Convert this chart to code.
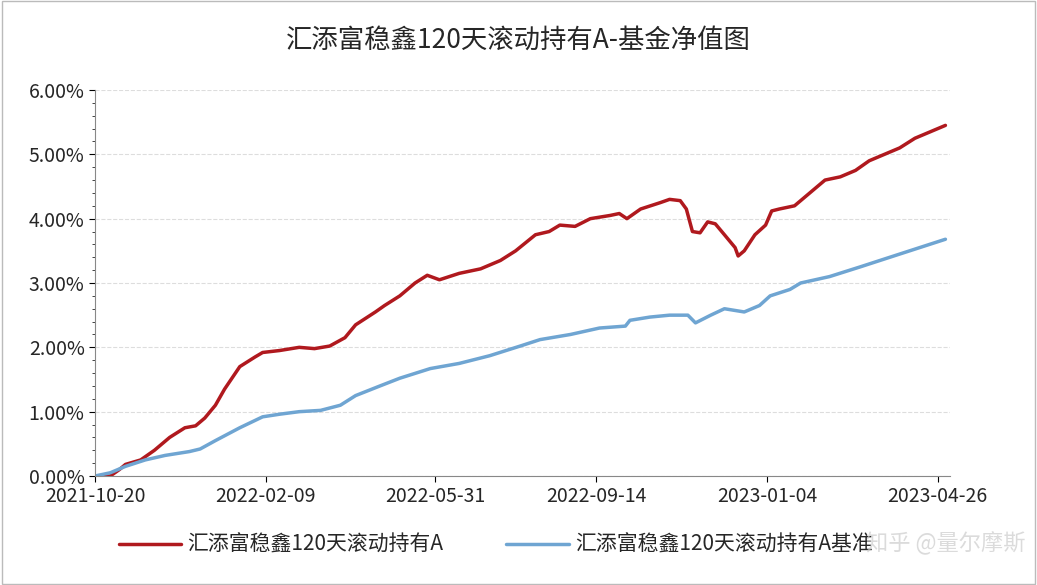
import numpy as np, pandas as pd, seaborn as sns, matplotlib
matplotlib.use("Agg")
import matplotlib.pyplot as plt
import matplotlib.dates as mdates
from matplotlib.ticker import PercentFormatter, MultipleLocator

sns.set_style("white")
plt.rcParams['font.family'] = ['Noto Sans CJK SC', 'DejaVu Sans']

start = pd.Timestamp("2021-10-20")
fund_days = [0,10,16,20,30,39,49,59,66,72,79,85,95,105,110,121,134,144,154,164,171,184,190,200,210,218,226,239,253,266,276,289,298,305,315,325,338,344,349,358,371,377,384,388,392,397,402,407,413,420,422,426,433,440,444,449,459,469,479,489,499,508,518,528,538,548,558]
fund_vals = [0,0,0.1,0.18,0.25,0.4,0.6,0.75,0.78,0.9,1.1,1.35,1.7,1.85,1.92,1.95,2.0,1.98,2.02,2.15,2.35,2.55,2.65,2.8,3.0,3.12,3.05,3.15,3.22,3.35,3.5,3.75,3.8,3.9,3.88,4.0,4.05,4.08,4.0,4.15,4.25,4.3,4.28,4.15,3.8,3.78,3.95,3.92,3.75,3.55,3.42,3.5,3.75,3.9,4.12,4.15,4.2,4.4,4.6,4.65,4.75,4.9,5.0,5.1,5.25,5.35,5.45]
bench_days = [0,10,20,33,46,62,69,79,95,110,121,134,148,161,171,187,200,220,239,259,279,292,312,331,348,351,364,377,389,394,404,413,426,436,443,456,463,482,502,528,558]
bench_vals = [0,0.05,0.15,0.25,0.32,0.38,0.42,0.55,0.75,0.92,0.96,1.0,1.02,1.1,1.25,1.4,1.52,1.67,1.75,1.87,2.02,2.12,2.2,2.3,2.33,2.42,2.47,2.5,2.5,2.38,2.5,2.6,2.55,2.65,2.8,2.9,3.0,3.1,3.25,3.45,3.68]
tick_labels = ["2021-10-20","2022-02-09","2022-05-31","2022-09-14","2023-01-04","2023-04-26"]
name_fund = "汇添富稳鑫120天滚动持有A"
name_bench = "汇添富稳鑫120天滚动持有A基准"

df1 = pd.DataFrame({"date": start + pd.to_timedelta(fund_days, unit="D"), "v": fund_vals})
df2 = pd.DataFrame({"date": start + pd.to_timedelta(bench_days, unit="D"), "v": bench_vals})

fig = plt.figure(figsize=(10.37, 5.85), dpi=100)
ax = fig.add_axes([95/1037, 1-476/585, 855/1037, 386/585])
sns.lineplot(data=df1, x="date", y="v", ax=ax, color="#b0191e", lw=2.5, label=name_fund)
sns.lineplot(data=df2, x="date", y="v", ax=ax, color="#6fa5d2", lw=2.5, label=name_bench)
ax.set_ylim(0, 6)
ax.set_xlim(start, start + pd.Timedelta(days=561))
ax.yaxis.set_major_locator(MultipleLocator(1))
ax.yaxis.set_minor_locator(MultipleLocator(0.2))
ax.yaxis.set_major_formatter(PercentFormatter(decimals=2))
ticks = pd.to_datetime(tick_labels)
ax.set_xticks(ticks)
ax.set_xticklabels(tick_labels)
ax.tick_params(axis='both', labelsize=14, direction='out', length=4, color='black', left=True, bottom=True)
ax.tick_params(axis='y', which='minor', length=2, left=True)
ax.grid(axis='y', ls='--', color='#dddddd', lw=0.8)
ax.set_xlabel(""); ax.set_ylabel("")
for s in ["top", "right"]:
    ax.spines[s].set_visible(False)
for s in ["left", "bottom"]:
    ax.spines[s].set_color("#888888")
ax.legend(loc="center left", bbox_to_anchor=(100/1037, 1-545/585), bbox_transform=fig.transFigure,
          ncol=2, frameon=False, fontsize=15, handlelength=3, handletextpad=0.3, columnspacing=3)
fig.text(0.5, 1-40/585, "汇添富稳鑫120天滚动持有A-基金净值图", ha='center', va='center', fontsize=19)
fig.text(0.835, 1-543/585, "知乎 @量尔摩斯", ha='left', va='center', fontsize=16, color='#cccccc', alpha=0.7)
fig.patches.append(plt.Rectangle((0.002, 0.002), 0.996, 0.996, transform=fig.transFigure, fill=False, ec='#bbbbbb', lw=1))
fig.savefig("out.png", dpi=100)
